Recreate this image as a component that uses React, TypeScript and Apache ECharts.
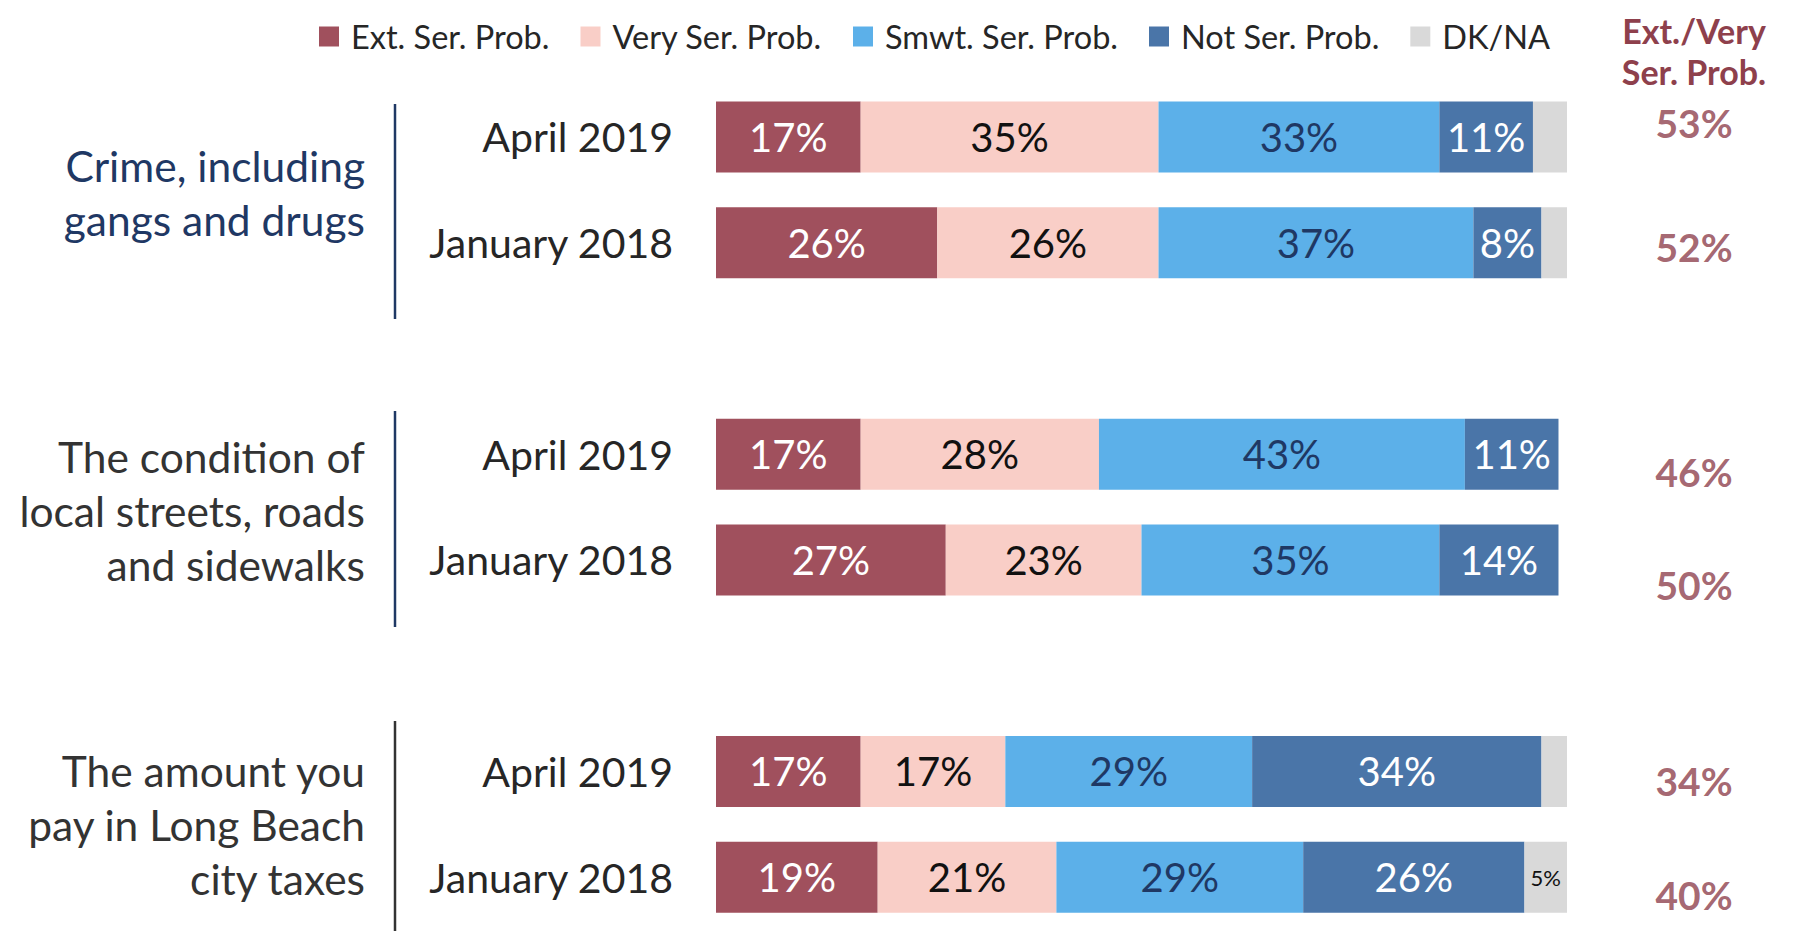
import React, { useEffect, useRef } from "react";
import * as echarts from "echarts";

const topics = [
  "Crime, including\ngangs and drugs",
  "The condition of\nlocal streets, roads\nand sidewalks",
  "The amount you\npay in Long Beach\ncity taxes",
];
const periods = ["April 2019", "January 2018"];
const seriesNames = ["Ext. Ser. Prob.", "Very Ser. Prob.", "Smwt. Ser. Prob.", "Not Ser. Prob.", "DK/NA"];
// rows: crime Apr19, crime Jan18, streets Apr19, streets Jan18, taxes Apr19, taxes Jan18
const extSer = [17, 26, 17, 27, 17, 19];
const verySer = [35, 26, 28, 23, 17, 21];
const smwtSer = [33, 37, 43, 35, 29, 29];
const notSer = [11, 8, 11, 14, 34, 26];
const dkNa = [4, 3, 0, 0, 3, 5];
const extVery = [53, 52, 46, 50, 34, 40];
const totalHeaderLines = ["Ext./Very", "Ser. Prob."];

const colors = ["#A0505D", "#F9CEC7", "#5CB0E9", "#4A75A8", "#D9D9D9"];
const labelColors = ["#FFFFFF", "#111111", "#1F3864", "#FFFFFF", "#111111"];
const totalNudge = [-14, 4, 18, 25, 10, 18];

export default function App() {
  const ref = useRef<HTMLDivElement>(null);
  useEffect(() => {
    if (!ref.current) return;
    const chart = echarts.init(ref.current, null, { renderer: "svg" });

    const slots: { key: string; row: number }[] = [];
    topics.forEach((t, ti) => {
      if (ti > 0) slots.push({ key: "gap" + ti, row: -1 });
      periods.forEach((p, pi) => slots.push({ key: ti + "|" + p, row: ti * periods.length + pi }));
    });
    const slotKeys = slots.map((s) => s.key);
    const valueSets = [extSer, verySer, smwtSer, notSer, dkNa];

    const barSeries = seriesNames.map((name, si) => ({
      name,
      type: "bar",
      stack: "total",
      barWidth: 71,
      xAxisIndex: 0,
      yAxisIndex: 0,
      itemStyle: { color: colors[si] },
      emphasis: { disabled: true },
      label: {
        show: true,
        position: "inside",
        color: labelColors[si],
        fontSize: si === 4 ? 22 : 40,
        fontFamily: "Lato",
        formatter: (p: any) => {
          const v = p.value;
          if (v == null || v === "-" || v === 0) return "";
          if (si === 4 && v < 5) return "";
          return v + "%";
        },
      },
      data: slots.map((s) => (s.row < 0 ? "-" : valueSets[si][s.row])),
    }));

    const totalSeries = {
      type: "scatter",
      xAxisIndex: 1,
      yAxisIndex: 1,
      symbolSize: 1,
      itemStyle: { color: "rgba(0,0,0,0)" },
      emphasis: { disabled: true },
      label: {
        show: true,
        position: "inside",
        color: "#8E404C",
        fontSize: 39,
        fontWeight: "bold",
        fontFamily: "Lato",
        formatter: (p: any) => extVery[p.data.row] + "%",
      },
      data: slots
        .map((s, i) => ({ s, i }))
        .filter((o) => o.s.row >= 0)
        .map((o) => ({
          value: [0.5, o.i],
          row: o.s.row,
          label: { offset: [0, totalNudge[o.s.row]] },
        })),
    };

    const groupCenters = [192, 510, 824];
    const groupLines = [
      [104, 319, "#1F3864"],
      [411, 627, "#1F3864"],
      [721, 931, "#333333"],
    ];
    const groupColors = ["#1F3864", "#333333", "#333333"];

    const graphics: any[] = [];
    topics.forEach((t, ti) => {
      graphics.push({
        type: "text",
        x: 365,
        y: groupCenters[ti],
        style: {
          text: t,
          fontSize: 42.5,
          fontFamily: "Lato",
          fill: groupColors[ti],
          align: "right",
          verticalAlign: "middle",
          lineHeight: 54,
        },
      });
      const gl = groupLines[ti];
      graphics.push({
        type: "line",
        shape: { x1: 395, y1: gl[0], x2: 395, y2: gl[1] },
        style: { stroke: gl[2], lineWidth: 2.5 },
      });
    });
    const headerY = [30, 71.5];
    totalHeaderLines.forEach((line, li) => {
      graphics.push({
        type: "text",
        x: 1694,
        y: headerY[li],
        style: {
          text: line,
          fontSize: 34,
          fontWeight: "bold",
          fontFamily: "Lato",
          fill: "#8E404C",
          align: "center",
          verticalAlign: "middle",
        },
      });
    });

    chart.setOption({
      animation: false,
      textStyle: { fontFamily: "Lato" },
      legend: {
        data: seriesNames,
        left: 319,
        top: 20,
        padding: 0,
        icon: "rect",
        itemWidth: 20,
        itemHeight: 20,
        itemGap: 31,
        selectedMode: false,
        textStyle: { fontSize: 32.5, color: "#262626", fontFamily: "Lato", padding: [0, 0, 0, 7] },
      },
      grid: [
        { left: 716, width: 851, top: 84, height: 846 },
        { left: 1604, width: 180, top: 84, height: 846 },
      ],
      xAxis: [
        { type: "value", min: 0, max: 100, show: false, gridIndex: 0 },
        { type: "value", min: 0, max: 1, show: false, gridIndex: 1 },
      ],
      yAxis: [
        {
          type: "category",
          gridIndex: 0,
          inverse: true,
          data: slotKeys,
          axisLine: { show: false },
          axisTick: { show: false },
          splitLine: { show: false },
          axisLabel: {
            fontSize: 41,
            color: "#262626",
            fontFamily: "Lato",
            margin: 43,
            interval: 0,
            formatter: (v: string) => (v.indexOf("|") >= 0 ? v.split("|")[1] : ""),
          },
        },
        {
          type: "category",
          gridIndex: 1,
          inverse: true,
          data: slotKeys,
          show: false,
        },
      ],
      graphic: graphics,
      series: [...barSeries, totalSeries],
    });
    return () => chart.dispose();
  }, []);
  return (
    <div
      ref={ref}
      style={{ position: "absolute", left: 0, top: 0, width: 1804, height: 931, background: "#fff" }}
    />
  );
}
